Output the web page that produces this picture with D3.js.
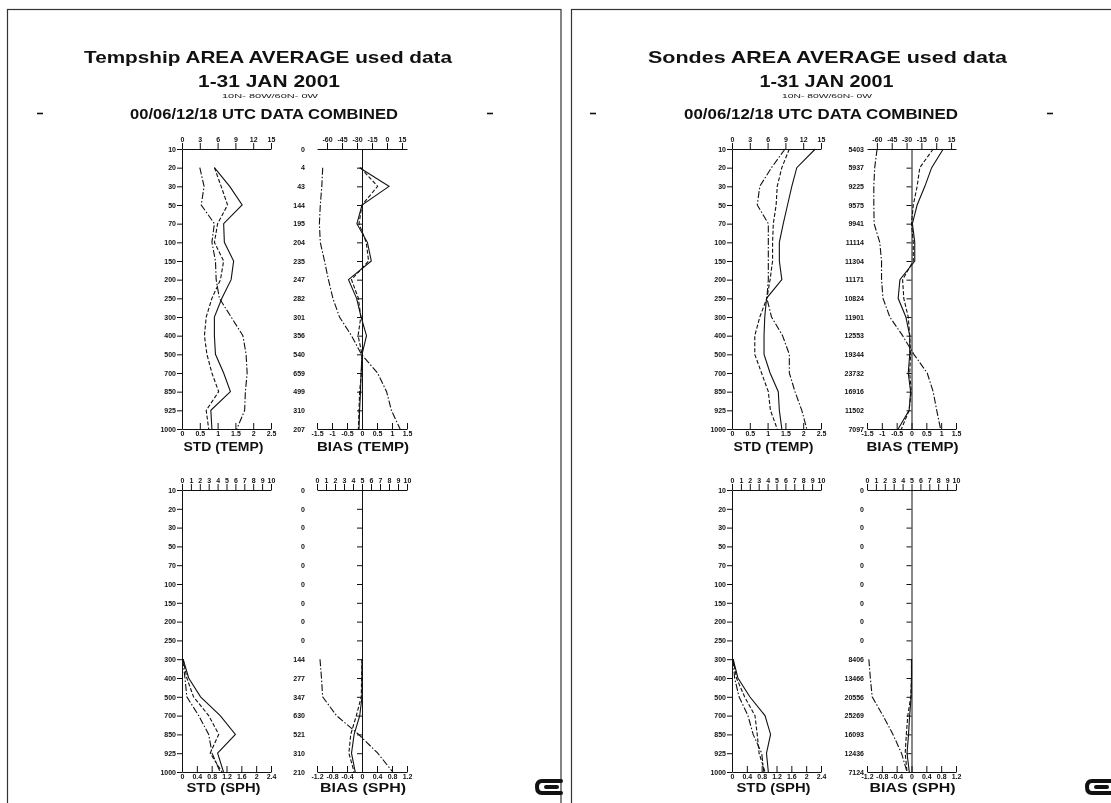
<!DOCTYPE html>
<html><head><meta charset="utf-8">
<script src="https://cdn.jsdelivr.net/npm/d3@7"></script>
<style>body{margin:0;background:#fff;overflow:hidden}svg{display:block;will-change:transform;-webkit-font-smoothing:antialiased}</style>
</head><body><svg id="c" width="1111" height="803"></svg>
<script>
// ---------------- DATA ----------------
const levels = [10,20,30,50,70,100,150,200,250,300,400,500,700,850,925,1000];
const levelLabels = levels.map(String);

const titlesLeft = ["Tempship AREA AVERAGE used data","1-31 JAN 2001","10N- 80W/60N- 0W","00/06/12/18 UTC DATA COMBINED"];
const titlesRight = ["Sondes AREA AVERAGE used data","1-31 JAN 2001","10N- 80W/60N- 0W","00/06/12/18 UTC DATA COMBINED"];
const panelLabels = ["STD (TEMP)","BIAS (TEMP)","STD (SPH)","BIAS (SPH)"];

const stdTempTop = [0,3,6,9,12,15];
const stdTempBottom = [0,0.5,1,1.5,2,2.5];
const biasTempTop = [-60,-45,-30,-15,0,15];
const biasTempBottom = [-1.5,-1,-0.5,0,0.5,1,1.5];
const sphTop = [0,1,2,3,4,5,6,7,8,9,10];
const stdSphBottom = [0,0.4,0.8,1.2,1.6,2,2.4];
const biasSphBottom = [-1.2,-0.8,-0.4,0,0.4,0.8,1.2];

// Tempship
const tsCountTemp = ["0","4","43","144","195","204","235","247","282","301","356","540","659","499","310","207"];
const tsCountSph  = ["0","0","0","0","0","0","0","0","0","144","277","347","630","521","310","210"];
const tsStdTempSolid   = [null,0.91,1.34,1.69,1.17,1.19,1.45,1.38,1.12,0.91,0.91,0.94,1.17,1.36,0.81,0.84];
const tsStdTempDashed  = [null,0.91,1.10,1.28,1.00,0.91,1.17,1.08,0.84,0.68,0.63,0.70,0.84,1.03,0.68,0.75];
const tsStdTempDashDot = [null,0.50,0.62,0.54,0.91,0.84,0.94,0.96,1.05,1.38,1.71,1.80,1.83,1.78,1.76,1.54];
const tsBiasTempSolid   = [null,-0.08,0.90,0,-0.17,0.18,0.31,-0.45,-0.18,-0.03,0.15,0,-0.03,-0.05,-0.08,-0.10];
const tsBiasTempDashed  = [null,-0.05,0.52,0,-0.10,0.14,0.22,-0.35,-0.12,-0.04,-0.13,0,-0.02,-0.08,-0.10,-0.12];
const tsBiasTempDashDot = [null,-1.31,-1.34,-1.39,-1.42,-1.39,-1.25,-1.12,-0.97,-0.75,-0.35,-0.02,0.52,0.82,0.98,1.27];
const tsStdSphSolid   = [null,null,null,null,null,null,null,null,null,0.03,0.18,0.50,1.03,1.44,0.96,1.12];
const tsStdSphDashed  = [null,null,null,null,null,null,null,null,null,0.03,0.13,0.31,0.72,0.99,0.76,1.08];
const tsStdSphDashDot = [null,null,null,null,null,null,null,null,null,0.02,0.08,0.13,0.45,0.72,0.81,1.03];
const tsBiasSphSolid   = [null,null,null,null,null,null,null,null,null,0,0,0,-0.06,-0.21,-0.28,-0.18];
const tsBiasSphDashed  = [null,null,null,null,null,null,null,null,null,0,-0.01,-0.02,-0.15,-0.30,-0.35,-0.21];
const tsBiasSphDashDot = [null,null,null,null,null,null,null,null,null,-1.12,-1.08,-1.05,-0.68,-0.09,0.42,0.82];

// Sondes
const sdCountTemp = ["5403","5937","9225","9575","9941","11114","11304","11171","10824","11901","12553","19344","23732","16916","11502","7097"];
const sdCountSph  = ["0","0","0","0","0","0","0","0","0","8406","13466","20556","25269","16093","12436","7124"];
const sdStdTempSolid   = [2.34,1.82,1.68,1.56,1.44,1.33,1.33,1.40,0.97,0.92,0.90,0.90,1.07,1.30,1.33,1.40];
const sdStdTempDashed  = [1.61,1.40,1.27,1.24,1.16,1.14,1.14,1.07,0.98,0.78,0.64,0.64,0.83,1.02,1.08,1.27];
const sdStdTempDashDot = [1.49,1.11,0.78,0.71,1.02,1.02,1.02,1.02,0.98,1.11,1.42,1.61,1.61,1.77,1.96,2.10];
const sdBiasTempSolid   = [1.07,0.68,0.45,0.19,0.03,0.11,0.11,-0.39,-0.45,-0.19,-0.06,-0.06,-0.11,-0.03,-0.08,-0.45];
const sdBiasTempDashed  = [0.73,0.28,0.19,0.06,0,0.06,0.06,-0.30,-0.26,-0.11,-0.06,-0.03,-0.06,-0.01,-0.08,-0.34];
const sdBiasTempDashDot = [-1.16,-1.24,-1.27,-1.27,-1.26,-1.07,-1.01,-1.01,-0.96,-0.73,-0.30,0.08,0.53,0.73,0.85,0.98];
const sdStdSphSolid   = [null,null,null,null,null,null,null,null,null,0.03,0.16,0.48,0.89,1.04,0.93,0.98];
const sdStdSphDashed  = [null,null,null,null,null,null,null,null,null,0.03,0.12,0.34,0.62,0.68,0.73,0.89];
const sdStdSphDashDot = [null,null,null,null,null,null,null,null,null,0.03,0.07,0.19,0.43,0.57,0.80,0.86];
const sdBiasSphSolid   = [null,null,null,null,null,null,null,null,null,0,0,-0.01,-0.05,-0.08,-0.12,-0.06];
const sdBiasSphDashed  = [null,null,null,null,null,null,null,null,null,0,0,-0.02,-0.10,-0.14,-0.17,-0.12];
const sdBiasSphDashDot = [null,null,null,null,null,null,null,null,null,-1.15,-1.11,-1.06,-0.77,-0.50,-0.27,-0.12];

// ---------------- DRAWING ----------------
const FONT = "'Liberation Sans', Arial, Helvetica, sans-serif";
const svg = d3.select("#c");
const INK = "#111";
const dashStyles = [null, "4,2", "7,2,1.5,2"];

function fmt(v){ return String(v); }

function styleAxis(g){
  g.selectAll("text").attr("font-size", 7).attr("font-family", FONT)
   .attr("font-weight", "bold").attr("fill", INK);
  g.selectAll("line,path").attr("stroke", INK).attr("stroke-width", 1);
  g.attr("font-family", null).attr("font-size", null);
}

function drawPanel(cfg){
  const y = d3.scalePoint().domain(levels).range(cfg.yRange);
  const xTop = d3.scaleLinear().domain(cfg.topDomain).range(cfg.xRange);
  const xBot = d3.scaleLinear().domain(cfg.botDomain).range(cfg.xRange);
  const g = svg.append("g");

  const gt = g.append("g").attr("transform", `translate(0,${cfg.yRange[0]})`)
    .call(d3.axisTop(xTop).tickValues(cfg.topTicks).tickFormat(fmt).tickSizeInner(6).tickSizeOuter(0).tickPadding(1));
  styleAxis(gt);
  const gb = g.append("g").attr("transform", `translate(0,${cfg.yRange[1]})`)
    .call(d3.axisBottom(xBot).tickValues(cfg.botTicks).tickFormat(fmt).tickSizeInner(-6).tickSizeOuter(0).tickPadding(2));
  styleAxis(gb);

  if (cfg.type === "std"){
    const gl = g.append("g").attr("transform", `translate(${cfg.xRange[0]},0)`)
      .call(d3.axisLeft(y).tickFormat((d,i)=>levelLabels[i]).tickSizeInner(5).tickSizeOuter(0).tickPadding(1));
    styleAxis(gl);
  } else {
    const x0 = xBot(0);
    const gc = g.append("g").attr("transform", `translate(${x0},0)`)
      .call(d3.axisLeft(y).tickFormat("").tickSizeInner(5).tickSizeOuter(0));
    styleAxis(gc);
    const gn = g.append("g").attr("transform", `translate(${cfg.countX},0)`)
      .call(d3.axisLeft(y).tickFormat((d,i)=>cfg.counts[i]).tickSize(0).tickPadding(0));
    gn.select(".domain").remove();
    styleAxis(gn);
  }

  const line = d3.line()
    .defined(d => d.v !== null)
    .x(d => xBot(d.v))
    .y(d => y(d.lev));
  cfg.series.forEach((s, k) => {
    const pts = levels.map((lev, i) => ({lev, v: s[i]}));
    g.append("path").datum(pts)
      .attr("d", line)
      .attr("fill", "none")
      .attr("stroke", INK)
      .attr("stroke-width", 1.1)
      .attr("stroke-dasharray", dashStyles[k]);
  });

  g.append("text")
    .attr("x", cfg.label.cx).attr("y", cfg.label.y)
    .attr("text-anchor", "middle")
    .attr("font-family", FONT).attr("font-weight", "bold")
    .attr("font-size", cfg.label.size).attr("fill", INK)
    .attr("textLength", cfg.label.w).attr("lengthAdjust", "spacingAndGlyphs")
    .text(cfg.label.text);
}

function drawFrame(f){
  svg.append("rect").attr("x", f.frame[0]).attr("y", 9.5)
    .attr("width", f.frame[1]-f.frame[0]).attr("height", 900)
    .attr("fill", "none").attr("stroke", "#333").attr("stroke-width", 1.2);

  const t = f.titles;
  const tl = [
    {s:16.5, y:63, w:f.tw[0], cx:f.tcx[0], wt:"bold"},
    {s:16.5, y:87, w:f.tw[1], cx:f.tcx[1], wt:"bold"},
    {s:6,  y:97.5, w:f.tw[2], cx:f.tcx[2], wt:"normal"},
    {s:15.5, y:119, w:f.tw[3], cx:f.tcx[3], wt:"bold"}
  ];
  tl.forEach((o,i)=>{
    svg.append("text").attr("x", o.cx).attr("y", o.y).attr("text-anchor","middle")
      .attr("font-family", FONT).attr("font-weight", o.wt).attr("font-size", o.s)
      .attr("fill", INK).attr("textLength", o.w).attr("lengthAdjust","spacingAndGlyphs")
      .text(t[i]);
  });
  f.dashX.forEach(x=>{
    svg.append("line").attr("x1", x-3).attr("x2", x+3).attr("y1", 113.5).attr("y2", 113.5)
      .attr("stroke", INK).attr("stroke-width", 1.6);
  });

  const [sx0, sx1] = f.std, [bx0, bx1] = f.bias;
  const yT = [149, 429], yB = [490, 772];
  drawPanel({type:"std", xRange:[sx0,sx1], yRange:yT, topDomain:[0,15], topTicks:stdTempTop,
    botDomain:[0,2.5], botTicks:stdTempBottom, series:f.d.stdTemp,
    label:{text:panelLabels[0], cx:(sx0+sx1)/2-3, y:451, size:12.5, w:80}});
  drawPanel({type:"bias", xRange:[bx0,bx1], yRange:yT, topDomain:[-70,20], topTicks:biasTempTop,
    botDomain:[-1.5,1.5], botTicks:biasTempBottom, series:f.d.biasTemp, counts:f.d.countTemp, countX:f.countX,
    label:{text:panelLabels[1], cx:(bx0+bx1)/2+1, y:451, size:12.5, w:92}});
  drawPanel({type:"std", xRange:[sx0,sx1], yRange:yB, topDomain:[0,10], topTicks:sphTop,
    botDomain:[0,2.4], botTicks:stdSphBottom, series:f.d.stdSph,
    label:{text:panelLabels[2], cx:(sx0+sx1)/2-3, y:792, size:13, w:74}});
  drawPanel({type:"bias", xRange:[bx0,bx1], yRange:yB, topDomain:[0,10], topTicks:sphTop,
    botDomain:[-1.2,1.2], botTicks:biasSphBottom, series:f.d.biasSph, counts:f.d.countSph, countX:f.countX,
    label:{text:panelLabels[3], cx:(bx0+bx1)/2+1, y:792, size:13, w:86}});

  const lx = f.logoX, ly = 787;
  svg.append("path")
    .attr("d", `M${lx+24},${ly-6} H${lx+5} Q${lx},${ly-6} ${lx},${ly} Q${lx},${ly+6} ${lx+5},${ly+6} H${lx+24} M${lx+9},${ly} H${lx+20}`)
    .attr("fill","none").attr("stroke", INK).attr("stroke-width", 4).attr("stroke-linecap","round");
}

drawFrame({
  frame:[7.5, 561], titles:titlesLeft,
  tw:[368,142,96,268], tcx:[268,269,270,264], dashX:[40,490],
  std:[182,271], bias:[317,407], countX:305, logoX:537,
  d:{stdTemp:[tsStdTempSolid,tsStdTempDashed,tsStdTempDashDot],
     biasTemp:[tsBiasTempSolid,tsBiasTempDashed,tsBiasTempDashDot],
     stdSph:[tsStdSphSolid,tsStdSphDashed,tsStdSphDashDot],
     biasSph:[tsBiasSphSolid,tsBiasSphDashed,tsBiasSphDashDot],
     countTemp:tsCountTemp, countSph:tsCountSph}
});
drawFrame({
  frame:[571.5, 1200], titles:titlesRight,
  tw:[359,134,90,274], tcx:[827.5,826.5,827,821], dashX:[593,1050],
  std:[732,821], bias:[867,956], countX:864, logoX:1087,
  d:{stdTemp:[sdStdTempSolid,sdStdTempDashed,sdStdTempDashDot],
     biasTemp:[sdBiasTempSolid,sdBiasTempDashed,sdBiasTempDashDot],
     stdSph:[sdStdSphSolid,sdStdSphDashed,sdStdSphDashDot],
     biasSph:[sdBiasSphSolid,sdBiasSphDashed,sdBiasSphDashDot],
     countTemp:sdCountTemp, countSph:sdCountSph}
});
</script>
</body></html>
